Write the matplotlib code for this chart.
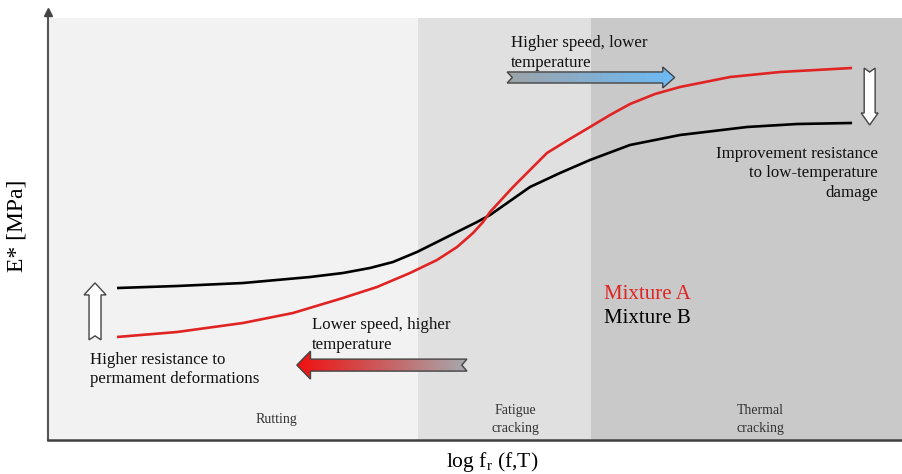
import numpy as np
import matplotlib
matplotlib.use('Agg')
from matplotlib import pyplot as plt
from matplotlib.patches import Polygon

plt.rcParams['font.family'] = ['Liberation Serif', 'DejaVu Serif']

# E* master curves, arbitrary units (x: log reduced frequency, y: modulus)
x_b = [8.07, 15.09, 22.81, 30.64, 34.50, 37.66, 40.35, 43.16, 45.50, 47.84, 50.18,
       51.70, 56.37, 59.88, 63.39, 68.07, 73.92, 81.75, 87.60, 94.04]
y_b = [35.51, 35.98, 36.68, 38.08, 39.02, 40.19, 41.59, 43.93, 46.26, 48.60, 50.93,
       52.57, 59.11, 62.38, 65.42, 68.93, 71.26, 73.13, 73.83, 74.07]

x_a = [8.07, 15.09, 22.81, 28.65, 34.50, 38.48, 42.34, 45.50, 47.84, 49.71, 50.88,
       51.70, 54.39, 56.37, 58.36, 60.82, 63.39, 65.73, 68.07, 70.99, 73.92, 79.77,
       85.61, 94.04]
y_a = [24.07, 25.23, 27.34, 29.67, 33.18, 35.75, 39.02, 42.06, 45.09, 48.36, 50.93,
       53.27, 59.11, 63.08, 67.06, 70.09, 73.13, 75.93, 78.50, 80.84, 82.48, 84.81,
       85.98, 86.92]

# damage zones along the frequency axis
zones = ['Rutting', 'Fatigue\ncracking', 'Thermal\ncracking']
zone_edges = [0, 43.3, 63.5, 100]
zone_colors = ['#f2f2f2', '#e0e0e0', '#c9c9c9']
zone_label_x = [26.7, 54.7, 83.3]

red = '#e02424'

fig = plt.figure(figsize=(9.03, 4.74), dpi=100)
ax = fig.add_axes([48 / 903, 34 / 474, 855 / 903, 428 / 474])
ax.set_xlim(0, 100)
ax.set_ylim(0, 100)

for i in range(3):
    ax.axvspan(zone_edges[i], zone_edges[i + 1], ymin=0, ymax=0.986,
               color=zone_colors[i], lw=0, zorder=0)
    ax.text(zone_label_x[i], 4.9, zones[i],
            ha='center', va='center', fontsize=10, color='#333333',
            linespacing=1.5)

ax.plot(x_b, y_b, color='black', lw=1.9, solid_capstyle='butt',
        solid_joinstyle='round', zorder=3)
ax.plot(x_a, y_a, color=red, lw=1.9, solid_capstyle='butt',
        solid_joinstyle='round', zorder=3)


def arrow(x0, x1, yc, shaft, head, head_len, notch, vertical=False):
    # block arrow from x0 (notched tail) to x1 (tip)
    d = 1 if x1 > x0 else -1
    hb = x1 - d * head_len
    pts = [(x0, yc - shaft), (hb, yc - shaft), (hb, yc - head), (x1, yc),
           (hb, yc + head), (hb, yc + shaft), (x0, yc + shaft), (x0 + d * notch, yc)]
    if vertical:
        pts = [(p[1], p[0]) for p in pts]
    return np.array(pts)


def draw_arrow(pts, c0=None, c1=None):
    poly = Polygon(pts, closed=True, fc='none' if c0 else 'white',
                   ec='#444444', lw=1.0, zorder=5)
    ax.add_patch(poly)
    if c0:
        # horizontal colour ramp, c0 on the left, c1 on the right
        t = np.linspace(0, 1, 256)
        a = np.array(matplotlib.colors.to_rgb(c0))
        b = np.array(matplotlib.colors.to_rgb(c1))
        img = (a[None, :] * (1 - t[:, None]) + b[None, :] * t[:, None])[None, :, :]
        xs, ys = pts[:, 0], pts[:, 1]
        im = ax.imshow(img, extent=[xs.min(), xs.max(), ys.min(), ys.max()],
                       aspect='auto', zorder=4, interpolation='bilinear')
        im.set_clip_path(poly)


# speed/temperature arrows
draw_arrow(arrow(53.7, 73.3, 84.7, 1.29, 2.45, 1.4, 0.6), '#9ea3a7', '#6bbaf7')
draw_arrow(arrow(49.0, 29.1, 17.5, 1.4, 3.27, 1.6, 0.6), '#f01010', '#a4abaf')

# resistance arrows
draw_arrow(arrow(23.4, 36.7, 5.5, 0.70, 1.29, 2.8, 0.93, vertical=True))
draw_arrow(arrow(86.9, 73.6, 96.1, 0.64, 0.99, 2.8, 0.93, vertical=True))

txt = dict(fontsize=12.2, linespacing=1.3, color='#111111')
ax.text(54.1, 94.6, 'Higher speed, lower\ntemperature', ha='left', va='top', **txt)
ax.text(30.9, 28.7, 'Lower speed, higher\ntemperature', ha='left', va='top', **txt)
ax.text(4.9, 20.6, 'Higher resistance to\npermament deformations', ha='left', va='top', **txt)
ax.text(97.1, 68.8, 'Improvement resistance\nto low-temperature\ndamage', ha='right',
        va='top', **txt)

ax.text(65.0, 34.1, 'Mixture A', color=red, ha='left', va='center', fontsize=15)
ax.text(65.0, 28.5, 'Mixture B', color='black', ha='left', va='center', fontsize=15)

for s in ['top', 'right']:
    ax.spines[s].set_visible(False)
ax.spines['left'].set_color('#555555')
ax.spines['left'].set_linewidth(1.5)
ax.spines['bottom'].set_color('#404040')
ax.spines['bottom'].set_linewidth(1.8)
ax.plot([0], [100], marker='^', ms=6, color='#444444', clip_on=False, zorder=6)
ax.set_xticks([])
ax.set_yticks([])

ax.set_xlabel(r'log f$_\mathregular{r}$ (f,T)', fontsize=15.5, va='center')
ax.xaxis.set_label_coords(0.52, -0.052, transform=ax.transAxes)
ax.set_ylabel('E* [MPa]', fontsize=17, va='center', ha='center')
ax.yaxis.set_label_coords(-0.036, 0.5, transform=ax.transAxes)

fig.savefig('out.png', dpi=100)
